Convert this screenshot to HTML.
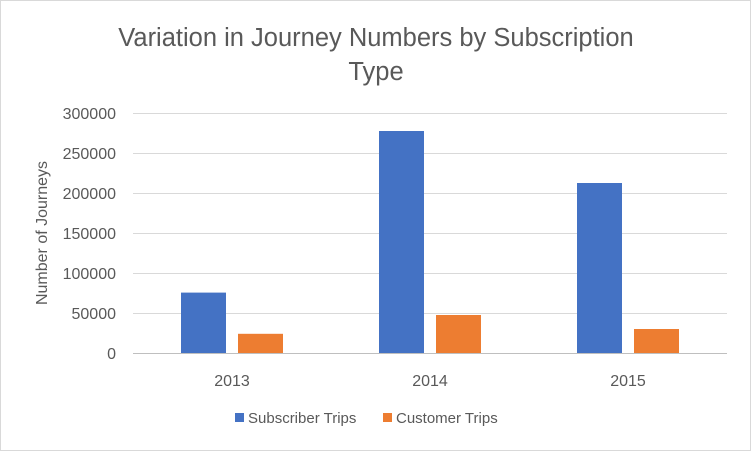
<!DOCTYPE html>
<html><head><meta charset="utf-8"><style>
body{margin:0;background:#fff}
svg{display:block;font-family:"Liberation Sans",sans-serif}
</style></head><body>
<svg id="chart" width="751" height="451">
<rect x="0.5" y="0.5" width="750" height="450" fill="#fff" stroke="#d9d9d9"/>
<text x="376" y="46" font-size="25.5" fill="#595959" text-anchor="middle">Variation in Journey Numbers by Subscription</text>
<text x="376" y="80" font-size="25.5" fill="#595959" text-anchor="middle">Type</text>
<text transform="translate(47,233) rotate(-90)" font-size="16" fill="#595959" text-anchor="middle">Number of Journeys</text>
<g id="grid"></g><g id="bars"></g><g id="xlabels"></g>
<g>
<rect x="235" y="413" width="9" height="9" fill="#4472c4"/>
<text x="248" y="423" font-size="15" fill="#595959">Subscriber Trips</text>
<rect x="383" y="413" width="9" height="9" fill="#ed7d31"/>
<text x="396" y="423" font-size="15" fill="#595959">Customer Trips</text>
</g>
</svg>
<script>
const categories=["2013","2014","2015"];
const subscriberTrips=[75500,277500,212500];
const customerTrips=[24000,47500,30000];
const yTicks=[0,50000,100000,150000,200000,250000,300000];
const NS="http://www.w3.org/2000/svg";
const plotLeft=133,plotRight=727,plotTop=113,plotBottom=353,yMax=300000;
const yScale=v=>plotBottom-(v/yMax)*(plotBottom-plotTop);
const bw=(plotRight-plotLeft)/categories.length;
function mk(tag,attrs,parent){const e=document.createElementNS(NS,tag);for(const k in attrs)e.setAttribute(k,attrs[k]);parent.appendChild(e);return e;}
const grid=document.getElementById('grid'),bars=document.getElementById('bars'),xl=document.getElementById('xlabels');
yTicks.forEach(t=>{
 const l=mk('line',{x1:plotLeft,x2:plotRight,y1:yScale(t)+0.5,y2:yScale(t)+0.5,stroke:t===0?'#bfbfbf':'#d9d9d9','stroke-width':1},grid);
 
 
 const tx=mk('text',{x:116,y:yScale(t)+6,'font-size':16,fill:'#595959','text-anchor':'end'},grid);
 tx.textContent=t;
 
 
});
categories.forEach((c,i)=>{
 const cx=plotLeft+bw*(i+0.5);
 const w=45;
 const r1=mk('rect',{x:cx-51,y:yScale(subscriberTrips[i]),width:w,height:plotBottom-yScale(subscriberTrips[i]),fill:'#4472c4'},bars);
 
 
 const r2=mk('rect',{x:cx+6,y:yScale(customerTrips[i]),width:w,height:plotBottom-yScale(customerTrips[i]),fill:'#ed7d31'},bars);
 
 
 const t=mk('text',{x:cx,y:386,'font-size':16,fill:'#595959','text-anchor':'middle'},xl);
 t.textContent=c;
 
 
});
</script>
</body></html>
